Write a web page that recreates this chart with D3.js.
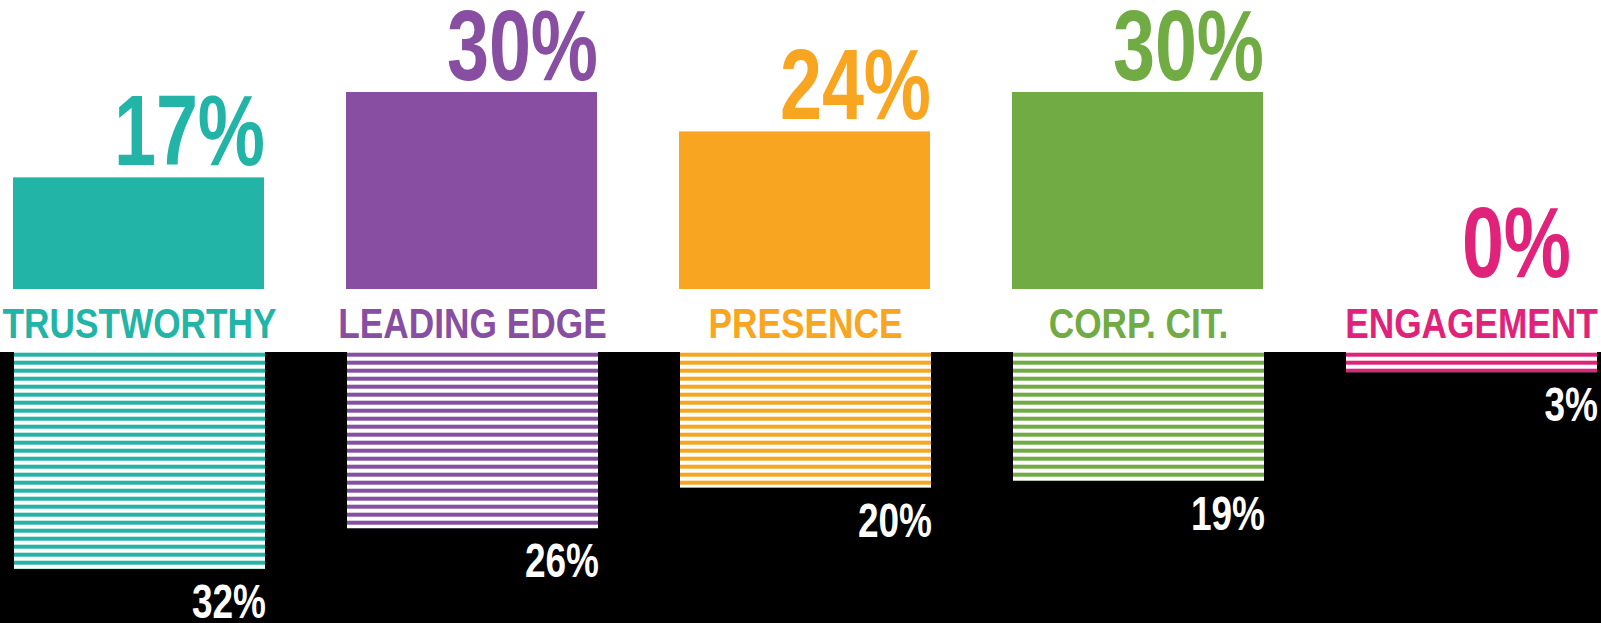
<!DOCTYPE html>
<html>
<head>
<meta charset="utf-8">
<script src="https://cdn.jsdelivr.net/npm/d3@7"></script>
<style>
  html, body { margin: 0; padding: 0; background: #fff; }
  svg { display: block; }
  text { font-family: "Liberation Sans", Arial, sans-serif; font-weight: bold; }
</style>
</head>
<body>
<svg id="chart"></svg>
<script>
// Brand attributes: share of positive mentions (top) vs. prior period (bottom, striped)
const categories = ["TRUSTWORTHY", "LEADING EDGE", "PRESENCE", "CORP. CIT.", "ENGAGEMENT"];
const currentValues = [17, 30, 24, 30, 0];
const previousValues = [32, 26, 20, 19, 3];
const colors = ["#22B4A6", "#874EA1", "#F8A621", "#71AB43", "#E0227A"];

const W = 1601, H = 623;
const baseTop = 289;     // baseline of the solid bars
const darkTop = 352;     // top of the black band where striped bars hang
const narrow = 0.82;     // condensed look for the names
const numScale = 0.755;  // condensed figures for the percentage labels

const svg = d3.select("#chart").attr("width", W).attr("height", H);

// black lower band
svg.append("rect")
  .attr("x", 0).attr("y", darkTop)
  .attr("width", W).attr("height", H - darkTop)
  .attr("fill", "#000");

const x = d3.scaleBand()
  .domain(categories)
  .range([13, 1596])
  .paddingInner(82 / 333)
  .paddingOuter(0);

const yTop = d3.scaleLinear().domain([0, 30]).range([baseTop, 92]);
const yBot = d3.scaleLinear().domain([0, 32]).range([darkTop, 569]);

const color = d3.scaleOrdinal().domain(categories).range(colors);

// horizontal stripe patterns, one per colour
const defs = svg.append("defs");
categories.forEach((c, i) => {
  const p = defs.append("pattern")
    .attr("id", "stripe" + i)
    .attr("patternUnits", "userSpaceOnUse")
    .attr("x", 0).attr("y", darkTop + 0.7)
    .attr("width", 16).attr("height", 8);
  p.append("rect").attr("width", 16).attr("height", 8).attr("fill", "#fff");
  p.append("rect").attr("width", 16).attr("height", 4).attr("fill", color(c));
});

const data = categories.map((c, i) => ({ cat: c, cur: currentValues[i], prev: previousValues[i], i }));

// solid bars (current)
svg.append("g").selectAll("rect")
  .data(data.filter(d => d.cur > 0))
  .join("rect")
  .attr("x", d => x(d.cat))
  .attr("y", d => yTop(d.cur))
  .attr("width", x.bandwidth())
  .attr("height", d => baseTop - yTop(d.cur))
  .attr("fill", d => color(d.cat));

// striped bars (previous)
svg.append("g").selectAll("rect")
  .data(data)
  .join("rect")
  .attr("x", d => x(d.cat) + 1)
  .attr("y", darkTop)
  .attr("width", x.bandwidth())
  .attr("height", d => yBot(d.prev) - darkTop)
  .attr("fill", d => `url(#stripe${d.i})`);

// category names
svg.append("g").selectAll("text")
  .data(data)
  .join("text")
  .attr("transform", d => `translate(${x(d.cat) + x.bandwidth() / 2 + 1},338) scale(${narrow},1)`)
  .attr("text-anchor", "middle")
  .attr("font-size", 43)
  .attr("fill", d => color(d.cat))
  .text(d => d.cat);

// current value labels above the solid bars
svg.append("g").selectAll("text")
  .data(data)
  .join("text")
  .attr("transform", d => {
    const xr = Math.min(x(d.cat) + x.bandwidth() + 1, W - 30);
    return `translate(${xr},${yTop(d.cur) - 12}) scale(${numScale},1)`;
  })
  .attr("text-anchor", "end")
  .attr("font-size", 100)
  .attr("fill", d => color(d.cat))
  .text(d => d.cur + "%");

// previous value labels below the striped bars
svg.append("g").selectAll("text")
  .data(data)
  .join("text")
  .attr("transform", d => `translate(${x(d.cat) + x.bandwidth() + 2},${yBot(d.prev) + 49}) scale(${numScale},1)`)
  .attr("text-anchor", "end")
  .attr("font-size", 49)
  .attr("fill", "#fff")
  .text(d => d.prev + "%");
</script>
</body>
</html>
